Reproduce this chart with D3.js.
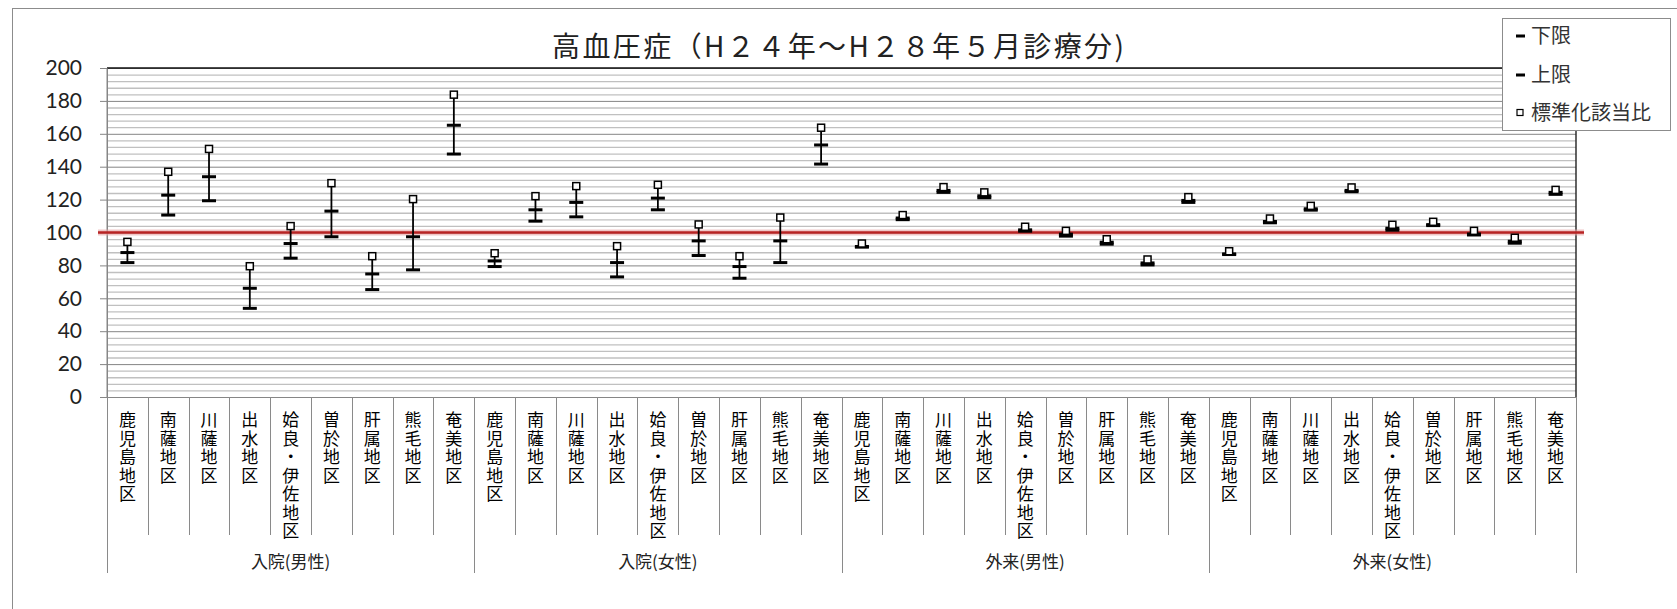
<!DOCTYPE html>
<html><head><meta charset="utf-8">
<script src="https://cdn.jsdelivr.net/npm/d3@7"></script>
<style>
html,body{margin:0;padding:0;background:#fff;}
svg{display:block;}
.vlabel{writing-mode:vertical-rl;text-orientation:upright;}
</style></head>
<body>
<svg id="chart" width="1677" height="609"></svg>
<script>
const title = "高血圧症（H２４年～H２８年５月診療分)";
const groups = ["入院(男性)", "入院(女性)", "外来(男性)", "外来(女性)"];
const areas = ["鹿児島地区", "南薩地区", "川薩地区", "出水地区", "姶良・伊佐地区", "曽於地区", "肝属地区", "熊毛地区", "奄美地区"];
const seriesNames = ["下限", "上限", "標準化該当比"];
const lowerValues = [
  81.7, 110.6, 119.3, 53.9, 84.4, 97.4, 65.3, 77.3, 147.7,
  79.3, 106.9, 109.5, 73.0, 113.8, 86.0, 72.2, 81.7, 141.6,
  91.1, 107.8, 124.4, 121.1, 100.8, 97.8, 92.9, 80.3, 118.3,
  86.6, 105.9, 113.6, 124.8, 101.4, 104.2, 98.5, 93.5, 123.2
];
const upperValues = [
  87.8, 122.7, 133.9, 66.1, 93.3, 113.0, 74.8, 97.4, 165.2,
  82.7, 113.8, 118.3, 81.7, 120.9, 94.9, 79.3, 94.9, 153.2,
  91.5, 108.8, 125.6, 122.3, 101.6, 99.0, 94.1, 81.5, 119.5,
  87.0, 106.7, 114.4, 125.6, 102.6, 104.8, 99.1, 94.7, 124.4
];
const smrValues = [
  94.3, 136.9, 150.8, 79.5, 103.9, 130.0, 85.6, 120.3, 183.8,
  87.4, 122.1, 128.2, 91.7, 129.0, 104.9, 85.6, 109.1, 163.7,
  93.3, 110.6, 127.6, 124.4, 103.5, 101.0, 95.9, 83.6, 121.5,
  88.6, 108.5, 116.2, 127.4, 104.7, 106.5, 101.0, 96.8, 125.9
];
const yTickLabels = [0, 20, 40, 60, 80, 100, 120, 140, 160, 180, 200];
const minorStep = 4;
const refValue = 100;

const svg = d3.select("#chart");
const L = 107, R = 1576, T = 68, B = 397;
const jpFont = "'Noto Sans CJK JP', 'Noto Sans CJK SC', sans-serif";

const data = lowerValues.map((v, i) => ({
  key: String(i),
  group: groups[Math.floor(i / areas.length)],
  area: areas[i % areas.length],
  lower: v, upper: upperValues[i], smr: smrValues[i]
}));

const x = d3.scaleBand().domain(data.map(d => d.key)).range([L, R]).padding(0);
const y = d3.scaleLinear().domain([0, 200]).range([B, T]);

// outer chart border
svg.append("rect").attr("x", 12.5).attr("y", 8.5).attr("width", 1700).attr("height", 700)
  .attr("fill", "#fff").attr("stroke", "#8c8c8c").attr("stroke-width", 1);

// minor gridlines
const minorVals = d3.range(0, 201, minorStep).filter(v => v % 20 !== 0);
svg.append("g").selectAll("line").data(minorVals).join("line")
  .attr("x1", L).attr("x2", R).attr("y1", d => y(d) + 0.5).attr("y2", d => y(d) + 0.5)
  .attr("stroke", "#c0c0c0").attr("stroke-width", 1.3);

// y axis (major gridlines + labels)
const yAxis = d3.axisLeft(y).tickValues(yTickLabels).tickSize(-(R - L)).tickPadding(18).tickFormat(d3.format("d"));
const gy = svg.append("g").attr("transform", `translate(${L},0)`).call(yAxis);
gy.select(".domain").attr("stroke", "#868686");
gy.selectAll(".tick line").attr("stroke", "#858585").attr("stroke-width", 1).attr("x1", -7).attr("x2", R - L);
gy.selectAll(".tick text").attr("font-family", "Lato, 'Open Sans', sans-serif").attr("font-size", 21)
  .attr("fill", "#222").attr("x", -25);

// plot top and right border
svg.append("line").attr("x1", L).attr("x2", R).attr("y1", y(200)).attr("y2", y(200)).attr("stroke", "#111").attr("stroke-width", 1.6);
svg.append("line").attr("x1", R).attr("x2", R).attr("y1", T).attr("y2", B).attr("stroke", "#222").attr("stroke-width", 1.4);
svg.append("line").attr("x1", L).attr("x2", L).attr("y1", T).attr("y2", B).attr("stroke", "#868686").attr("stroke-width", 1);
svg.append("line").attr("x1", L - 7).attr("x2", R).attr("y1", B + 0.5).attr("y2", B + 0.5).attr("stroke", "#868686").attr("stroke-width", 1.2);

// category ticks
const bw = x.bandwidth();
const gx = svg.append("g");
data.forEach((d, i) => {
  const xl = Math.round(x(d.key)) + 0.5;
  const isGroupEdge = i % areas.length === 0;
  gx.append("line").attr("x1", xl).attr("x2", xl).attr("y1", B).attr("y2", isGroupEdge ? 573 : 535)
    .attr("stroke", "#8a8a8a").attr("stroke-width", 1);
});
gx.append("line").attr("x1", R + 0.5).attr("x2", R + 0.5).attr("y1", B).attr("y2", 573)
  .attr("stroke", "#8a8a8a").attr("stroke-width", 1);

// category labels: one upright character per line, stacked vertically
const catFont = 17, charPitch = 18.5, firstCharCenter = 420;
const cat = svg.append("g").attr("font-family", jpFont).attr("font-size", catFont).attr("fill", "#000");
data.forEach(d => {
  const cx = x(d.key) + bw / 2;
  Array.from(d.area).forEach((ch, k) => {
    cat.append("text").attr("class", "vlabel")
      .attr("x", cx).attr("y", firstCharCenter - catFont / 2 + k * charPitch)
      .text(ch);
  });
});

// group labels
groups.forEach((g, gi) => {
  const first = data[gi * areas.length], last = data[gi * areas.length + areas.length - 1];
  const cx = (x(first.key) + x(last.key) + bw) / 2;
  svg.append("text").attr("x", cx).attr("y", 562).attr("dy", "0.36em").attr("text-anchor", "middle")
    .attr("font-family", jpFont).attr("font-size", 17).attr("fill", "#222").text(g);
});

// reference line at 100
svg.append("line").attr("x1", L - 9).attr("x2", R + 8).attr("y1", y(refValue)).attr("y2", y(refValue))
  .attr("stroke", "#e6a3a3").attr("stroke-width", 6).attr("opacity", 0.6);
svg.append("line").attr("x1", L - 9).attr("x2", R + 8).attr("y1", y(refValue)).attr("y2", y(refValue))
  .attr("stroke", "#b82424").attr("stroke-width", 2.6);

// high-low lines and markers
const marks = svg.append("g");
data.forEach(d => {
  const cx = x(d.key) + bw / 2;
  marks.append("line").attr("x1", cx).attr("x2", cx).attr("y1", y(d.lower)).attr("y2", y(d.smr))
    .attr("stroke", "#000").attr("stroke-width", 1.8);
  [d.lower, d.upper].forEach(v => {
    marks.append("rect").attr("x", cx - 7).attr("y", y(v) - 1.5).attr("width", 14).attr("height", 3).attr("fill", "#000");
  });
  marks.append("rect").attr("x", cx - 3.5).attr("y", y(d.smr) - 3.5).attr("width", 7).attr("height", 7)
    .attr("fill", "#fff").attr("stroke", "#000").attr("stroke-width", 1.5);
});

// title
svg.append("text").attr("x", 838).attr("y", 47).attr("dy", "0.36em").attr("text-anchor", "middle")
  .attr("font-family", jpFont).attr("font-size", 28).attr("fill", "#222")
  .attr("textLength", 572).attr("lengthAdjust", "spacing").text(title);

// legend
const lg = svg.append("g");
lg.append("rect").attr("x", 1502.5).attr("y", 18.5).attr("width", 168).attr("height", 112)
  .attr("fill", "#fff").attr("stroke", "#8c8c8c").attr("stroke-width", 1);
const rowY = [36, 75, 112.5];
seriesNames.forEach((n, i) => {
  if (i < 2) {
    lg.append("rect").attr("x", 1516).attr("y", rowY[i] - 1.5).attr("width", 9).attr("height", 3).attr("fill", "#000");
  } else {
    lg.append("rect").attr("x", 1517).attr("y", rowY[i] - 3).attr("width", 6).attr("height", 6)
      .attr("fill", "#fff").attr("stroke", "#000").attr("stroke-width", 1.2);
  }
  lg.append("text").attr("x", 1531).attr("y", rowY[i]).attr("dy", "0.36em")
    .attr("font-family", jpFont).attr("font-size", 20).attr("fill", "#333").text(n);
});
</script>
</body></html>
